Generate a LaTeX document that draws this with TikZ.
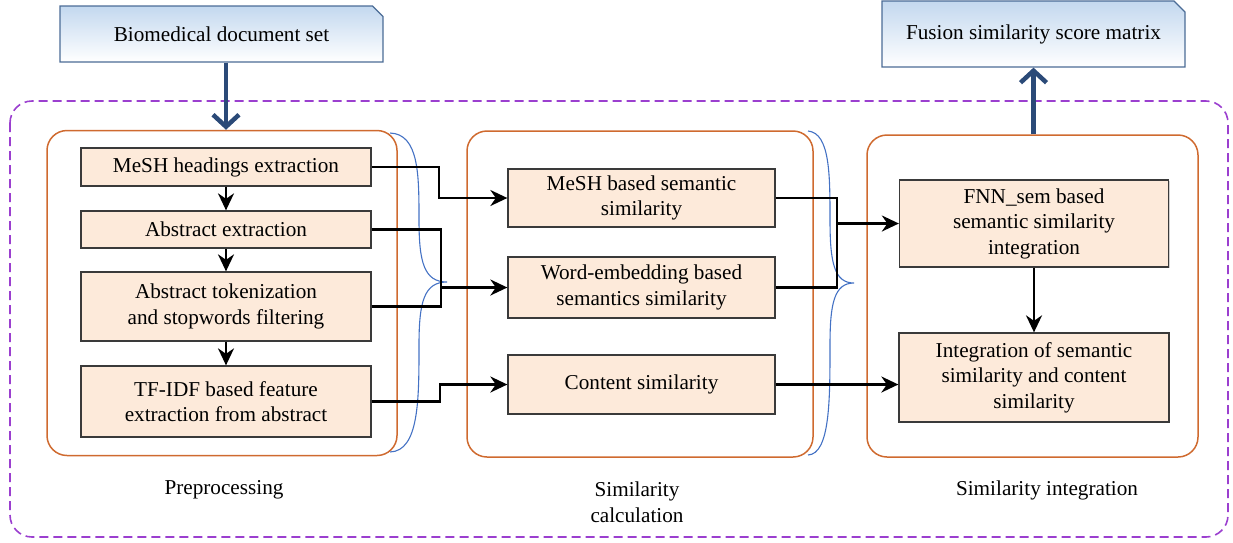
\documentclass[tikz,border=0pt]{standalone}
\usepackage{fontspec}
\setmainfont{Liberation Serif}
\usetikzlibrary{arrows.meta,shapes.misc,shadows}

\definecolor{peach}{HTML}{FDEADA}
\definecolor{boxedge}{HTML}{3A3A3A}
\definecolor{grouporange}{HTML}{CF6A2F}
\definecolor{outerpurple}{HTML}{9B3FCF}
\definecolor{braceblue}{HTML}{4472C4}
\definecolor{flowblue}{HTML}{2B4A78}
\definecolor{ioedge}{HTML}{4B6C96}
\definecolor{iotop}{HTML}{C3D8EF}

\tikzset{
  txt/.style={font=\fontsize{21.2}{25.5}\selectfont, align=center, text=black},
  stepbox/.style={txt, draw=boxedge, line width=1.3pt, fill=peach, inner sep=0pt,
    drop shadow={shadow xshift=1.4pt, shadow yshift=-1.4pt, fill=black!40, opacity=0.45}},
  iobox/.style={txt, chamfered rectangle, chamfered rectangle corners=north east,
    chamfered rectangle xsep=8pt, chamfered rectangle angle=45,
    draw=ioedge, line width=1.2pt, top color=iotop, bottom color=white, inner sep=0pt},
  groupbox/.style={draw=grouporange, line width=1.5pt, rounded corners=20pt, inner sep=0pt},
  conn/.style={draw=black, line width=2.3pt, -{Stealth[length=17pt, width=16pt, inset=5.5pt]}},
  link/.style={draw=black, line width=2.3pt},
  bigarrow/.style={draw=flowblue, line width=4.5pt, -{Straight Barb[length=12pt, width=26pt, line width=4.5pt]}},
  bracecurve/.style={draw=braceblue, line width=1.1pt},
  caption/.style={txt}
}

\begin{document}
\begin{tikzpicture}[x=1pt, y=-1pt]
\useasboundingbox (0,0) rectangle (1233,542);

% outer dashed frame
\draw[outerpurple, line width=1.6pt, dash pattern=on 9pt off 5pt, rounded corners=22pt]
  (10,101) rectangle (1228,537);

% three stage groups
\node[groupbox, minimum width=350pt, minimum height=325pt] (pre) at (222,293) {};
\node[groupbox, minimum width=346pt, minimum height=326pt] (calc) at (640,294) {};
\node[groupbox, minimum width=331pt, minimum height=322pt] (integ) at (1032.5,296) {};

% input and output documents
\node[iobox, minimum width=323pt, minimum height=56pt] (doc) at (221.5,34) {Biomedical document set};
\node[iobox, minimum width=303pt, minimum height=66pt] (fus) at (1033.5,34) {Fusion similarity score matrix};

% preprocessing steps
\node[stepbox, minimum width=290pt, minimum height=38pt] (b1) at (226,167) {MeSH headings extraction};
\node[stepbox, minimum width=290pt, minimum height=37pt] (b2) at (226,229.5) {Abstract extraction};
\node[stepbox, minimum width=290pt, minimum height=69pt] (b3) at (226,306.5) {Abstract tokenization\\and stopwords filtering};
\node[stepbox, minimum width=290pt, minimum height=71pt] (b4) at (226,401.5) {TF-IDF based feature\\extraction from abstract};

% similarity measures
\node[stepbox, minimum width=267pt, minimum height=58pt] (m1) at (641.5,198) {MeSH based semantic\\similarity};
\node[stepbox, minimum width=267pt, minimum height=61pt] (m2) at (641.5,287.5) {Word-embedding based\\semantics similarity};
\node[stepbox, minimum width=267pt, minimum height=59pt] (m3) at (641.5,384.5) {Content similarity};

% integration steps
\node[stepbox, minimum width=269pt, minimum height=87pt] (r1) at (1034,223.5) {FNN\_sem based\\semantic similarity\\integration};
\node[stepbox, minimum width=270pt, minimum height=89pt] (r2) at (1034,377.5) {Integration of semantic\\similarity and content\\similarity};

% stage captions
\node[caption] (cap1) at (224,490) {Preprocessing};
\node[caption] (cap2) at (637,502) {Similarity\\calculation};
\node[caption] (cap3) at (1047,490) {Similarity integration};

% braces grouping the outputs of each stage
\draw[bracecurve] (390,133) .. controls (419,134) and (419,175) .. (419,220)
  .. controls (419,262) and (424,282) .. (447,282)
  .. controls (424,282) and (419,302) .. (419,345)
  .. controls (419,400) and (419,451) .. (390,452);
\draw[bracecurve] (808,131) .. controls (830,133) and (830,175) .. (830,220)
  .. controls (830,262) and (834,283) .. (854,283)
  .. controls (834,283) and (830,304) .. (830,345)
  .. controls (830,400) and (830,454) .. (808,455);

% input / output flow
\draw[bigarrow] ([xshift=4.5pt]doc.south) -- ([xshift=4.5pt]doc.south |- pre.north);
\draw[bigarrow] (integ.north -| fus.south) -- (fus.south);

% preprocessing chain
\draw[conn] (b1) -- (b2);
\draw[conn] (b2) -- (b3);
\draw[conn] (b3) -- (b4);

% preprocessing to similarity measures
\coordinate (j1) at (441,287.5);
\draw[conn] (b1.east) -- ([xshift=67pt]b1.east) |- (m1.west);
\draw[link] (b2.east) -| (j1);
\draw[link] (b3.east) -| (j1);
\draw[conn] (j1) -- (m2.west);
\draw[conn] (b4.east) -- ([xshift=68pt]b4.east) |- (m3.west);

% similarity measures to integration
\coordinate (j2) at (837,223.5);
\draw[link] (m1.east) -| (j2);
\draw[link] (m2.east) -| (j2);
\draw[conn] (j2) -- (r1.west);
\draw[conn] (m3.east) -- (m3.east -| r2.west);
\draw[conn] (r1) -- (r2);
\end{tikzpicture}
\end{document}
